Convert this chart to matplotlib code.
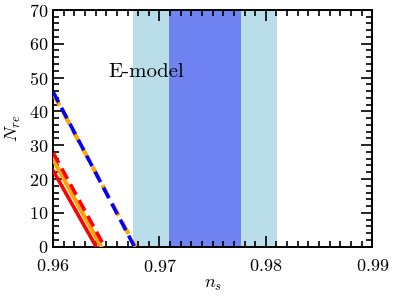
import numpy as np
import matplotlib.pyplot as plt
from matplotlib.ticker import MultipleLocator

plt.rcParams['font.family'] = 'cmr10'
plt.rcParams['mathtext.fontset'] = 'cm'
plt.rcParams['axes.formatter.use_mathtext'] = True

# Planck bands in n_s
ns_2sigma = [0.9675, 0.9811]
ns_1sigma = [0.9709, 0.9777]

# N_re lines: (n_s at left edge, N_re at left edge) -> (n_s where N_re = 0)
ns_start = [0.96, 0.96, 0.96, 0.96, 0.96]
nre_start = [22.5, 25.8, 27.8, 45.3, 45.8]
ns_end = [0.96405, 0.96452, 0.96484, 0.96775, 0.96765]
colors = ['red', 'orange', 'red', 'orange', 'blue']
styles = ['-', '-', '--', '--', '--']

fig, ax = plt.subplots(figsize=(3.93, 2.99), dpi=100)
fig.subplots_adjust(left=0.135, right=0.947, top=0.967, bottom=0.175)

ax.axvspan(ns_2sigma[0], ns_2sigma[1], color='lightblue', lw=0, alpha=0.85)
ax.axvspan(ns_1sigma[0], ns_1sigma[1], color='#7083f2', lw=0)

for x0, y0, x1, c, ls in zip(ns_start, nre_start, ns_end, colors, styles):
    ax.plot([x0, x1], [y0, 0], color=c, ls=ls, lw=2.6 if c != 'orange' else 3.0,
            dashes=(3.3, 1.7) if ls == '--' else (None, None), zorder=3)

ax.text(0.96877, 51.7, 'E-model', fontsize=15, ha='center', va='center')

ax.set_xlim(0.96, 0.99)
ax.set_ylim(0, 70)
ax.xaxis.set_major_locator(MultipleLocator(0.01))
ax.xaxis.set_minor_locator(MultipleLocator(0.001))
ax.yaxis.set_major_locator(MultipleLocator(10))
ax.yaxis.set_minor_locator(MultipleLocator(2))
ax.tick_params(which='both', direction='in', top=True, right=True, labelsize=13, width=1.2)
ax.tick_params(which='major', length=8)
ax.tick_params(which='minor', length=4)
ax.tick_params(axis='x', pad=8)
for s in ax.spines.values():
    s.set_linewidth(1.4)
ax.set_xlabel(r'$n_s$', fontsize=13, labelpad=2)
ax.set_ylabel(r'$N_{re}$', fontsize=13)

fig.savefig('out.png', dpi=100)
